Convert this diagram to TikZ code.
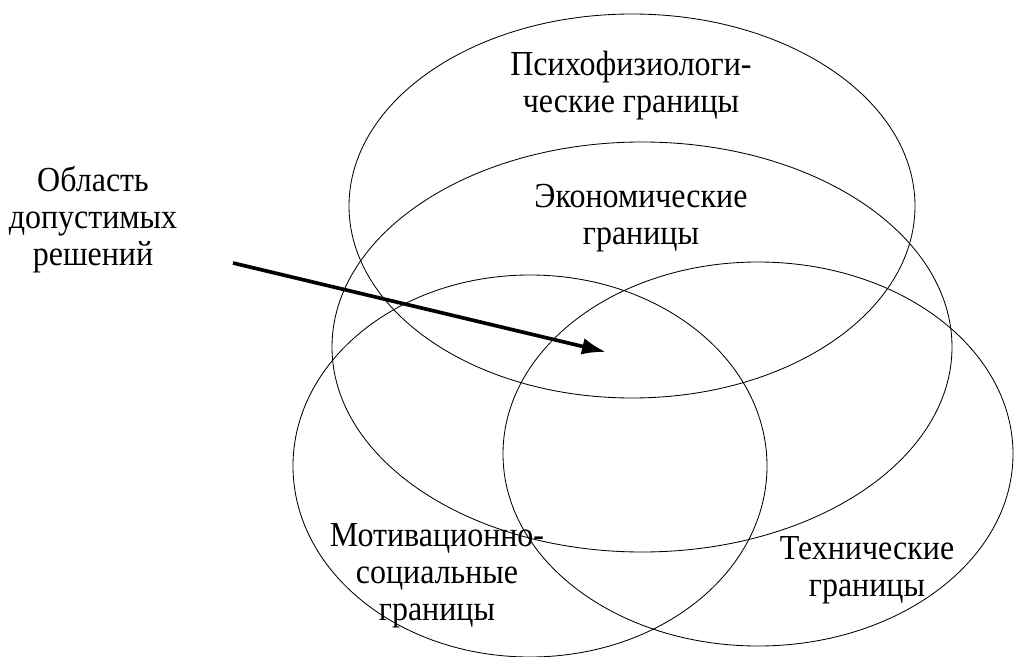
\documentclass[tikz,border=0pt]{standalone}
\usepackage{fontspec}
\setmainfont[FakeStretch=0.91]{Liberation Serif}
\usetikzlibrary{arrows.meta}

\begin{document}
\begin{tikzpicture}[x=0.025cm, y=-0.025cm]
    \tikzset{%
      bound/.style = {line width=0.6pt, draw=black},
      label/.style = {align=center, inner sep=0pt,
                      font=\fontsize{25}{26.3}\selectfont},
      pointer/.style = {line width=2.6pt, -{Latex[length=6mm, width=4.2mm]}}
    }
    \useasboundingbox (0,0) rectangle (1014,657);

    % four borders: centre x / centre y / radii
    \foreach \cx/\cy/\rx/\ry in {%
      632/206/283/192,
      642/347/310/205,
      530/466/237/191,
      758/454/255/192%
    }{
      \draw[bound] (\cx,\cy) ellipse [x radius=\rx, y radius=\ry];
    }

    \node[label] (psych) at (631,86)  {Психофизиологи-\\ческие границы};
    \node[label] (econ)  at (641,218) {Экономические\\границы};
    \node[label] (motiv) at (437,576) {Мотивационно-\\социальные\\границы};
    \node[label] (tech)  at (867,570) {Технические\\границы};
    \node[label] (area)  at (93,220)  {Область\\допустимых\\решений};

    \coordinate (tail) at (233,263);
    \coordinate (tip)  at (606,352);
    \draw[pointer] (tail) -- (tip);
\end{tikzpicture}
\end{document}
